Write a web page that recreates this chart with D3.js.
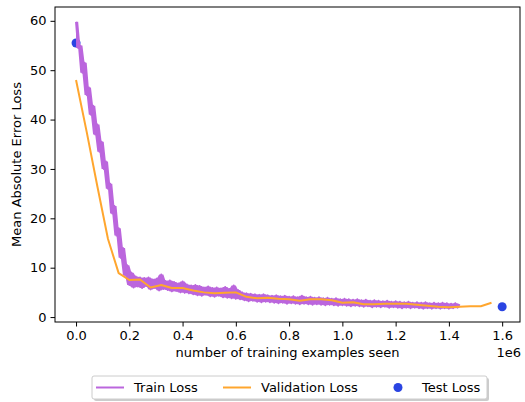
<!DOCTYPE html>
<html>
<head>
<meta charset="utf-8">
<script src="https://cdn.jsdelivr.net/npm/d3@7"></script>
<style>
  body { margin: 0; background: #fff; }
  svg text { font-family: "DejaVu Sans", sans-serif; fill: #000; }
</style>
</head>
<body>
<div id="chart"></div>
<script>
// training loss, one sample every 8000 examples seen
const trainStep = 8000;
const trainLoss = [
  59.8, 54.5, 55.0, 49.5, 51.5, 45.0, 46.5, 41.0, 42.8, 37.0,
  39.0, 33.5, 35.5, 30.0, 31.5, 26.0, 27.0, 21.0, 22.5, 16.5,
  18.0, 12.0, 14.0, 8.5, 10.5, 6.5, 9.0, 6.0, 8.2, 6.2,
  8.0, 5.9, 7.9, 6.3, 8.0, 5.6, 7.6, 5.9, 7.8, 5.4,
  8.6, 5.7, 7.3, 5.5, 7.4, 5.2, 7.1, 5.3, 6.8, 5.0,
  7.2, 4.9, 6.6, 4.8, 6.4, 4.6, 6.5, 4.4, 6.3, 4.3,
  6.0, 4.5, 6.2, 4.2, 5.9, 4.1, 6.0, 4.3, 5.8, 4.0,
  6.1, 3.9, 5.7, 3.8, 6.4, 3.7, 5.5, 3.6, 5.0, 3.4,
  4.8, 3.2, 4.7, 3.3, 4.6, 3.1, 4.5, 3.0, 4.6, 3.1,
  4.4, 3.0, 4.3, 2.9, 4.4, 2.8, 4.2, 2.9, 4.3, 2.7,
  4.1, 2.8, 4.2, 2.7, 4.0, 2.6, 4.3, 2.7, 4.0, 2.6,
  4.1, 2.5, 3.9, 2.6, 4.0, 2.5, 3.8, 2.4, 3.9, 2.5,
  3.7, 2.4, 3.8, 2.3, 3.6, 2.4, 3.7, 2.3, 3.6, 2.2,
  3.5, 2.3, 3.6, 2.2, 3.4, 2.1, 3.5, 2.2, 3.3, 2.0,
  3.4, 2.1, 3.3, 2.0, 3.2, 2.1, 3.3, 1.9, 3.1, 2.0,
  3.2, 1.9, 3.1, 1.8, 3.0, 1.9, 3.1, 1.8, 2.9, 1.9,
  3.0, 1.8, 2.9, 1.7, 3.0, 1.8, 2.8, 1.7, 2.9, 1.8,
  2.8, 1.7, 2.9, 1.8, 2.8, 1.7, 2.7, 1.8, 2.8, 1.9,
  2.6
];

// validation loss, evaluated every 40000 examples
const valStep = 40000;
const valLoss = [
  48.0, 37.5, 26.5, 15.8, 8.9, 7.5, 7.6, 6.0, 6.5, 5.9,
  5.9, 5.4, 5.0, 4.8, 4.9, 5.0, 4.1, 3.8, 3.9, 3.7,
  3.6, 3.3, 3.6, 3.6, 3.4, 2.9, 3.0, 2.6, 2.6, 2.7,
  2.7, 2.7, 2.5, 2.3, 2.1, 2.0, 2.1, 2.2, 2.2, 2.9
];

const testX = [0, 1600000];
const testLoss = [55.5, 2.1];

const xTicks = [0, 200000, 400000, 600000, 800000, 1000000, 1200000, 1400000, 1600000];
const yTicks = [0, 10, 20, 30, 40, 50, 60];
const seriesNames = ['Train Loss', 'Validation Loss', 'Test Loss'];

const colors = {train: '#bb66dd', val: '#ffa62e', test: '#2a44e2'};

const W = 525, H = 402;
const margin = {top: 7, right: 5, bottom: 80, left: 55};
const width = W - margin.left - margin.right;
const height = H - margin.top - margin.bottom;

const svg = d3.select('#chart').append('svg')
    .attr('width', W)
    .attr('height', H);

const g = svg.append('g')
    .attr('transform', 'translate(' + margin.left + ',' + margin.top + ')');

const x = d3.scaleLinear().domain([-79000, 1667000]).range([0, width]);
const y = d3.scaleLinear().domain([-1.0, 62.8]).range([height, 0]);

// test points sit underneath the train curve
g.selectAll('circle.test')
    .data(testX.map((d, i) => ({x: d, y: testLoss[i]})))
    .enter()
    .append('circle')
    .attr('cx', d => x(d.x))
    .attr('cy', d => y(d.y))
    .attr('r', 4.5)
    .attr('fill', colors.test);

const trainPts = trainLoss.map((v, i) => {
  const win = trainLoss.slice(Math.max(0, i - 1), i + 2);
  return {x: i * trainStep, y: v, lo: d3.min(win), hi: d3.max(win)};
});

// the raw train curve is so dense that it reads as a filled band
g.append('path')
    .datum(trainPts)
    .attr('d', d3.area().x(d => x(d.x)).y0(d => y(d.lo)).y1(d => y(d.hi)))
    .attr('fill', colors.train);

const line = d3.line()
    .x(d => x(d.x))
    .y(d => y(d.y));

g.append('path')
    .datum(trainPts)
    .attr('d', line)
    .attr('fill', 'none')
    .attr('stroke', colors.train)
    .attr('stroke-width', 2)
    .attr('stroke-linejoin', 'round');

g.append('path')
    .datum(valLoss.map((v, i) => ({x: i * valStep, y: v})))
    .attr('d', line)
    .attr('fill', 'none')
    .attr('stroke', colors.val)
    .attr('stroke-width', 2)
    .attr('stroke-linejoin', 'round');

// axes
const xAxis = g.append('g')
    .attr('transform', 'translate(0,' + height + ')')
    .call(d3.axisBottom(x).tickValues(xTicks).tickFormat(d => (d / 1e6).toFixed(1))
        .tickSizeInner(4.5).tickSizeOuter(0).tickPadding(4));

const yAxis = g.append('g')
    .call(d3.axisLeft(y).tickValues(yTicks).tickFormat(d3.format('d'))
        .tickSizeInner(4.5).tickSizeOuter(0).tickPadding(4));

[xAxis, yAxis].forEach(a => {
  a.select('.domain').remove();
  a.selectAll('text').attr('font-size', 13).attr('font-family', 'DejaVu Sans, sans-serif');
  a.selectAll('line').attr('stroke', '#000').attr('stroke-width', 1);
});

g.append('rect')
    .attr('x', 0).attr('y', 0)
    .attr('width', width).attr('height', height)
    .attr('fill', 'none')
    .attr('stroke', '#000')
    .attr('stroke-width', 1);

svg.append('text')
    .attr('x', margin.left + width / 2)
    .attr('y', 357)
    .attr('text-anchor', 'middle')
    .attr('font-size', 13)
    .text('number of training examples seen');

svg.append('text')
    .attr('x', margin.left + width + 1)
    .attr('y', 357)
    .attr('text-anchor', 'end')
    .attr('font-size', 13)
    .text('1e6');

svg.append('text')
    .attr('transform', 'translate(21,' + (margin.top + height / 2) + ') rotate(-90)')
    .attr('text-anchor', 'middle')
    .attr('font-size', 13)
    .text('Mean Absolute Error Loss');

// legend
const legend = svg.append('g').attr('transform', 'translate(92,376)');
legend.append('rect')
    .attr('x', 2).attr('y', 2)
    .attr('width', 395).attr('height', 23)
    .attr('rx', 2)
    .attr('fill', '#999')
    .attr('opacity', 0.5);
legend.append('rect')
    .attr('width', 395).attr('height', 23)
    .attr('rx', 2)
    .attr('fill', '#fff')
    .attr('stroke', '#cccccc');

const entryX = [4, 131, 306];
const textX = [42, 169, 330];
seriesNames.forEach((name, i) => {
  const cy = 11.5;
  if (i < 2) {
    legend.append('line')
        .attr('x1', entryX[i]).attr('x2', entryX[i] + 28)
        .attr('y1', cy).attr('y2', cy)
        .attr('stroke', i === 0 ? colors.train : colors.val)
        .attr('stroke-width', 2);
  } else {
    legend.append('circle')
        .attr('cx', entryX[i]).attr('cy', cy)
        .attr('r', 4.5)
        .attr('fill', colors.test);
  }
  legend.append('text')
      .attr('x', textX[i]).attr('y', cy + 4.7)
      .attr('font-size', 13)
      .text(name);
});
</script>
</body>
</html>
